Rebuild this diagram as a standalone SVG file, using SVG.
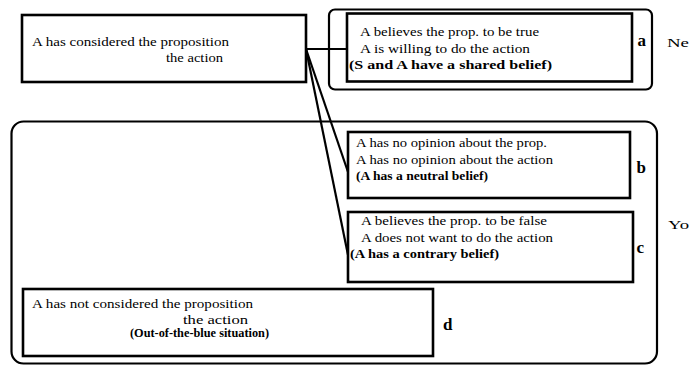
<svg xmlns="http://www.w3.org/2000/svg" width="690" height="367" viewBox="0 0 690 367" font-family="'Liberation Serif', 'DejaVu Serif', serif">
<style>
.box{fill:#fff;stroke:#000;stroke-width:2.6}
.grp{fill:none;stroke:#000;stroke-width:2.2}
text{font-family:'Liberation Serif','DejaVu Serif',serif;fill:#000}
.t{font-size:13px}
.b{font-weight:bold}
.lbl{font-size:17px;font-weight:bold}
.side{font-size:13.5px}
.ln{fill:none;stroke:#000;stroke-width:2.2}
</style>
<rect class="grp" x="11.5" y="121.5" width="645.5" height="242" rx="12"/>
<text class="side" x="668" y="229" textLength="21" lengthAdjust="spacingAndGlyphs">Yo</text>
<rect class="grp" x="329" y="9.5" width="323" height="80" rx="6"/>
<text class="side" x="667" y="47" textLength="22" lengthAdjust="spacingAndGlyphs">Ne</text>
<g id="connectors">
<line class="ln" x1="306" y1="49" x2="347" y2="49"/>
<line class="ln" x1="306" y1="49" x2="348" y2="172"/>
<line class="ln" x1="306" y1="49" x2="348" y2="255"/>
</g>
<g id="source">
<rect class="box" x="22" y="15" width="284" height="67"/>
<text class="t" x="32" y="46" textLength="197" lengthAdjust="spacingAndGlyphs">A has considered the proposition</text>
<text class="t" x="166" y="62" textLength="57" lengthAdjust="spacingAndGlyphs">the action</text>
</g>
<g id="node-a">
<rect class="box" x="347" y="13.5" width="285" height="68"/>
<text class="t" x="360" y="36" textLength="179" lengthAdjust="spacingAndGlyphs">A believes the prop. to be true</text>
<text class="t" x="360" y="52.5" textLength="170" lengthAdjust="spacingAndGlyphs">A is willing to do the action</text>
<text class="t b" x="349" y="69" textLength="203" lengthAdjust="spacingAndGlyphs">(S and A have a shared belief)</text>
<text class="lbl" x="637.5" y="46">a</text>
</g>
<g id="node-b">
<rect class="box" x="348" y="132" width="282" height="66"/>
<text class="t" x="356" y="147" textLength="191" lengthAdjust="spacingAndGlyphs">A has no opinion about the prop.</text>
<text class="t" x="356" y="163.5" textLength="197" lengthAdjust="spacingAndGlyphs">A has no opinion about the action</text>
<text class="t b" x="356" y="180" textLength="132" lengthAdjust="spacingAndGlyphs">(A has a neutral belief)</text>
<text class="lbl" x="636.5" y="173">b</text>
</g>
<g id="node-c">
<rect class="box" x="348" y="212" width="285" height="70"/>
<text class="t" x="361" y="225" textLength="186" lengthAdjust="spacingAndGlyphs">A believes the prop. to be false</text>
<text class="t" x="361" y="241.5" textLength="192" lengthAdjust="spacingAndGlyphs">A does not want to do the action</text>
<text class="t b" x="350" y="258" textLength="149" lengthAdjust="spacingAndGlyphs">(A has a contrary belief)</text>
<text class="lbl" x="636.5" y="253">c</text>
</g>
<g id="node-d">
<rect class="box" x="23" y="289" width="410" height="67"/>
<text class="t" x="32" y="308" textLength="221" lengthAdjust="spacingAndGlyphs">A has not considered the proposition</text>
<text class="t" x="183" y="323.5" textLength="65" lengthAdjust="spacingAndGlyphs">the action</text>
<text class="t b" x="130" y="337" textLength="139" lengthAdjust="spacingAndGlyphs">(Out-of-the-blue situation)</text>
<text class="lbl" x="443" y="330">d</text>
</g>
</svg>
